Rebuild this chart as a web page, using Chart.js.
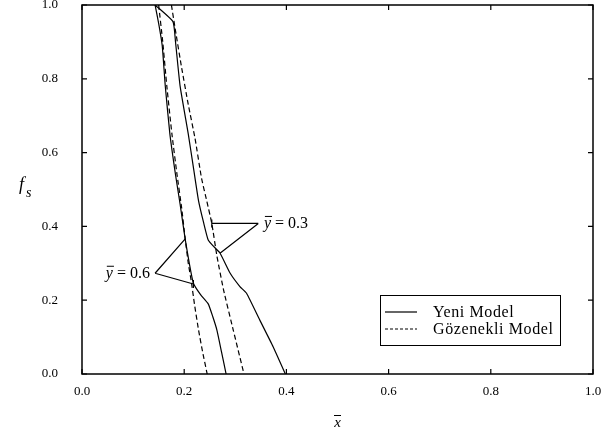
<!doctype html>
<html lang="tr">
<head>
<meta charset="utf-8">
<title>f_s - x</title>
<script src="https://cdn.jsdelivr.net/npm/chart.js"></script>
<style>
  html, body { margin: 0; padding: 0; background: #fff; }
  #wrap { width: 613px; height: 434px; }
</style>
</head>
<body>
<div id="wrap"><canvas id="myChart" width="613" height="434"></canvas></div>
<script>
// tick values of both axes
const xTicks = [0.0, 0.2, 0.4, 0.6, 0.8, 1.0]
const yTicks = [0.0, 0.2, 0.4, 0.6, 0.8, 1.0]

// Yeni Model, y = 0.6
const yeni06X = [0.143, 0.150, 0.157, 0.163, 0.172, 0.183, 0.192, 0.202, 0.210, 0.218, 0.232, 0.247, 0.256, 0.264, 0.273, 0.282]
const yeni06Y = [1.0, 0.95, 0.89, 0.78, 0.65, 0.54, 0.46, 0.365, 0.30, 0.246, 0.215, 0.19, 0.155, 0.119, 0.06, 0.0]
// Gozenekli Model, y = 0.6
const goz06X = [0.150, 0.158, 0.166, 0.176, 0.186, 0.195, 0.202, 0.208, 0.214, 0.220, 0.228, 0.236, 0.245]
const goz06Y = [1.0, 0.90, 0.78, 0.65, 0.54, 0.45, 0.366, 0.30, 0.25, 0.19, 0.12, 0.06, 0.0]
// Yeni Model, y = 0.3
const yeni03X = [0.143, 0.178, 0.183, 0.192, 0.208, 0.218, 0.228, 0.238, 0.247, 0.258, 0.270, 0.290, 0.309, 0.322, 0.348, 0.374, 0.398]
const yeni03Y = [1.0, 0.955, 0.90, 0.78, 0.65, 0.56, 0.47, 0.41, 0.363, 0.345, 0.328, 0.273, 0.237, 0.219, 0.146, 0.074, 0.0]
// Gozenekli Model, y = 0.3
const goz03X = [0.175, 0.183, 0.195, 0.208, 0.221, 0.234, 0.244, 0.254, 0.264, 0.277, 0.296, 0.317]
const goz03Y = [1.0, 0.93, 0.83, 0.73, 0.64, 0.53, 0.47, 0.408, 0.32, 0.228, 0.119, 0.0]

// callouts: label position + the two arms, in data units
const callouts = [
  { text: '0.3', at: [0.356, 0.408], align: 'left', apex: [0.345, 0.408], arms: [[0.254, 0.408], [0.270, 0.327]], tickArm: 0 },
  { text: '0.6', at: [0.133, 0.273], align: 'right', apex: [0.143, 0.273], arms: [[0.202, 0.366], [0.218, 0.244]], tickArm: 1 }
]

function pts(xs, ys) {
  return xs.map((x, i) => ({ x: x, y: ys[i] }))
}

const serif = '"Liberation Serif", "Times New Roman", serif'

const framePlugin = {
  id: 'frame',
  afterDraw(chart) {
    const ctx = chart.ctx
    const xs = chart.scales.x, ys = chart.scales.y
    const a = chart.chartArea
    ctx.save()
    ctx.strokeStyle = '#000'
    ctx.lineWidth = 1.5
    ctx.strokeRect(a.left, a.top, a.right - a.left, a.bottom - a.top)
    // inward ticks
    ctx.lineWidth = 1.2
    ctx.beginPath()
    xTicks.forEach(v => {
      const px = xs.getPixelForValue(v)
      ctx.moveTo(px, a.bottom); ctx.lineTo(px, a.bottom - 5)
      ctx.moveTo(px, a.top); ctx.lineTo(px, a.top + 5)
    })
    yTicks.forEach(v => {
      const py = ys.getPixelForValue(v)
      ctx.moveTo(a.left, py); ctx.lineTo(a.left + 5, py)
      ctx.moveTo(a.right, py); ctx.lineTo(a.right - 5, py)
    })
    ctx.stroke()

    // axis titles
    ctx.fillStyle = '#000'
    ctx.textBaseline = 'alphabetic'
    ctx.font = 'italic 18px ' + serif
    ctx.textAlign = 'left'
    ctx.fillText('f', 19, 190)
    ctx.font = 'italic 14px ' + serif
    ctx.fillText('s', 26, 197)
    const cx = (a.left + a.right) / 2
    ctx.font = 'italic 15px ' + serif
    ctx.textAlign = 'center'
    ctx.fillText('x', cx, 427)
    ctx.lineWidth = 1
    ctx.beginPath(); ctx.moveTo(cx - 3.5, 415.5); ctx.lineTo(cx + 3.5, 415.5); ctx.stroke()

    // callouts
    callouts.forEach(c => {
      const ax = xs.getPixelForValue(c.apex[0]), ay = ys.getPixelForValue(c.apex[1])
      ctx.lineWidth = 1.2
      ctx.beginPath()
      c.arms.forEach((p, i) => {
        const bx = xs.getPixelForValue(p[0]), by = ys.getPixelForValue(p[1])
        ctx.moveTo(ax, ay); ctx.lineTo(bx, by)
        if (i === c.tickArm) { ctx.moveTo(bx, by - 4); ctx.lineTo(bx, by + 4) }
      })
      ctx.stroke()
      let lx = xs.getPixelForValue(c.at[0])
      const ly = ys.getPixelForValue(c.at[1]) + 5
      ctx.textAlign = 'left'
      const rest = ' = ' + c.text
      ctx.font = 'italic 16px ' + serif
      const wy = ctx.measureText('y').width
      ctx.font = '16px ' + serif
      const wr = ctx.measureText(rest).width
      if (c.align === 'right') lx -= wy + wr
      ctx.font = 'italic 16px ' + serif
      ctx.fillText('y', lx, ly)
      ctx.lineWidth = 1
      ctx.beginPath(); ctx.moveTo(lx + 1, ly - 12); ctx.lineTo(lx + wy + 1, ly - 12); ctx.stroke()
      ctx.font = '16px ' + serif
      ctx.fillText(rest, lx + wy, ly)
    })

    // legend box
    const L = { x: 380, y: 295, w: 180, h: 50 }
    ctx.lineWidth = 1
    ctx.strokeRect(L.x + 0.5, L.y + 0.5, L.w, L.h)
    const rows = [chart.data.datasets[0], chart.data.datasets[1]]
    ctx.font = '16px ' + serif
    ctx.letterSpacing = '0.6px'
    ctx.textAlign = 'left'
    rows.forEach((ds, i) => {
      const ry = L.y + 17 + i * 17
      ctx.lineWidth = ds.borderWidth
      ctx.setLineDash(i ? [3, 2] : [])
      ctx.beginPath(); ctx.moveTo(L.x + 5, ry); ctx.lineTo(L.x + 37, ry); ctx.stroke()
      ctx.setLineDash([])
      ctx.fillText(ds.label, L.x + 53, ry + 5)
    })
    ctx.restore()
  }
}

const solid = { borderColor: '#000', borderWidth: 1.2, pointRadius: 0, fill: false, tension: 0.15 }
const dashed = Object.assign({}, solid, { borderDash: [5, 3] })

function zeroPad(s) {
  s.paddingTop = 0; s.paddingBottom = 0; s.paddingLeft = 0; s.paddingRight = 0
}

const config = {
  type: 'line',
  data: {
    datasets: [
      Object.assign({ label: 'Yeni Model', data: pts(yeni06X, yeni06Y) }, solid),
      Object.assign({ label: 'Gözenekli Model', data: pts(goz06X, goz06Y) }, dashed),
      Object.assign({ label: 'Yeni Model', data: pts(yeni03X, yeni03Y) }, solid),
      Object.assign({ label: 'Gözenekli Model', data: pts(goz03X, goz03Y) }, dashed)
    ]
  },
  options: {
    responsive: false,
    animation: false,
    layout: { padding: { top: 5, right: 20, left: 0, bottom: 0 } },
    plugins: { legend: { display: false }, tooltip: { enabled: false } },
    scales: {
      x: {
        type: 'linear', min: 0, max: 1,
        grid: { display: false, drawTicks: false },
        border: { display: false },
        afterBuildTicks: s => { s.ticks = xTicks.map(v => ({ value: v })) },
        afterFit: s => { s.height = 60; zeroPad(s) },
        ticks: { padding: 10, color: '#000', font: { family: serif, size: 13 }, callback: v => v.toFixed(1), maxRotation: 0 }
      },
      y: {
        type: 'linear', min: 0, max: 1,
        grid: { display: false, drawTicks: false },
        border: { display: false },
        afterBuildTicks: s => { s.ticks = yTicks.map(v => ({ value: v })) },
        afterFit: s => { s.width = 82; zeroPad(s) },
        ticks: { padding: 24, color: '#000', font: { family: serif, size: 13 }, callback: v => v.toFixed(1) }
      }
    }
  },
  plugins: [framePlugin]
}

const myChart = new Chart(document.getElementById('myChart'), config)
</script>
</body>
</html>
